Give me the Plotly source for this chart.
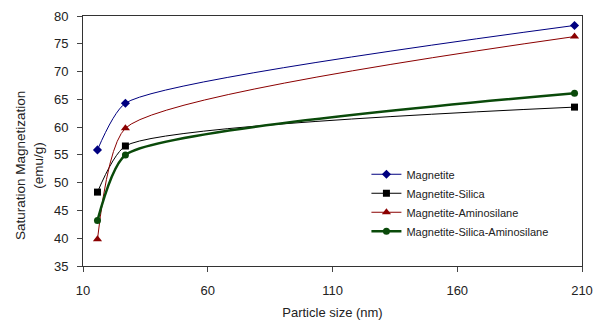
import plotly.graph_objects as go

particle_size = [15.8, 27, 207]
magnetite = [55.9, 64.3, 78.3]
magnetite_silica = [48.3, 56.6, 63.6]
magnetite_aminosilane = [39.8, 59.8, 76.3]
magnetite_silica_aminosilane = [43.2, 55.0, 66.1]

x_ticks = [10, 60, 110, 160, 210]
y_ticks = [35, 40, 45, 50, 55, 60, 65, 70, 75, 80]

series = [
    ("Magnetite", magnetite, "#000080", "diamond", 7, 1),
    ("Magnetite-Silica", magnetite_silica, "#000000", "square", 7, 1),
    ("Magnetite-Aminosilane", magnetite_aminosilane, "#8B0000", "triangle-up", 8, 1),
    ("Magnetite-Silica-Aminosilane", magnetite_silica_aminosilane, "#0A4A0A", "circle", 7, 2.5),
]

fig = go.Figure()
for name, ys, color, sym, msize, lw in series:
    fig.add_trace(go.Scatter(
        x=particle_size, y=ys, name=name, mode="lines+markers",
        line=dict(color=color, width=lw, shape="spline", smoothing=0.55),
        marker=dict(symbol=sym, size=msize, color=color),
    ))

font = "Liberation Sans, Arial, sans-serif"
fig.update_layout(
    width=597, height=320,
    margin=dict(l=83, r=15, t=16, b=54, autoexpand=False),
    paper_bgcolor="white", plot_bgcolor="white",
    font=dict(family=font, size=13, color="#222222"),
    showlegend=True,
    legend=dict(x=0.568, y=0.425, xanchor="left", yanchor="top",
                font=dict(size=11, color="#222222"), bgcolor="rgba(0,0,0,0)",
                tracegroupgap=0),
    xaxis=dict(range=[10, 210], tickvals=x_ticks, ticks="outside", ticklen=5,
               showline=True, linecolor="#333333", linewidth=1, mirror=True,
               showgrid=False, zeroline=False, ticklabelstandoff=7, automargin=False,
               title=dict(text="Particle size (nm)", font=dict(size=13), standoff=12)),
    yaxis=dict(range=[35, 80], tickvals=y_ticks, ticks="outside", ticklen=5,
               showline=True, linecolor="#333333", linewidth=1, mirror=True,
               showgrid=False, zeroline=False, ticklabelstandoff=6, automargin=False),
    annotations=[dict(text="Saturation Magnetization<br>(emu/g)", textangle=-90,
                      xref="paper", yref="paper", x=-0.108, y=0.4,
                      xanchor="center", yanchor="middle", showarrow=False,
                      font=dict(size=13.5, color="#222222"))],
)

fig.write_html("out.html", config={"displayModeBar": False},
               post_script="document.body.style.margin='0';document.body.style.overflow='hidden';")
